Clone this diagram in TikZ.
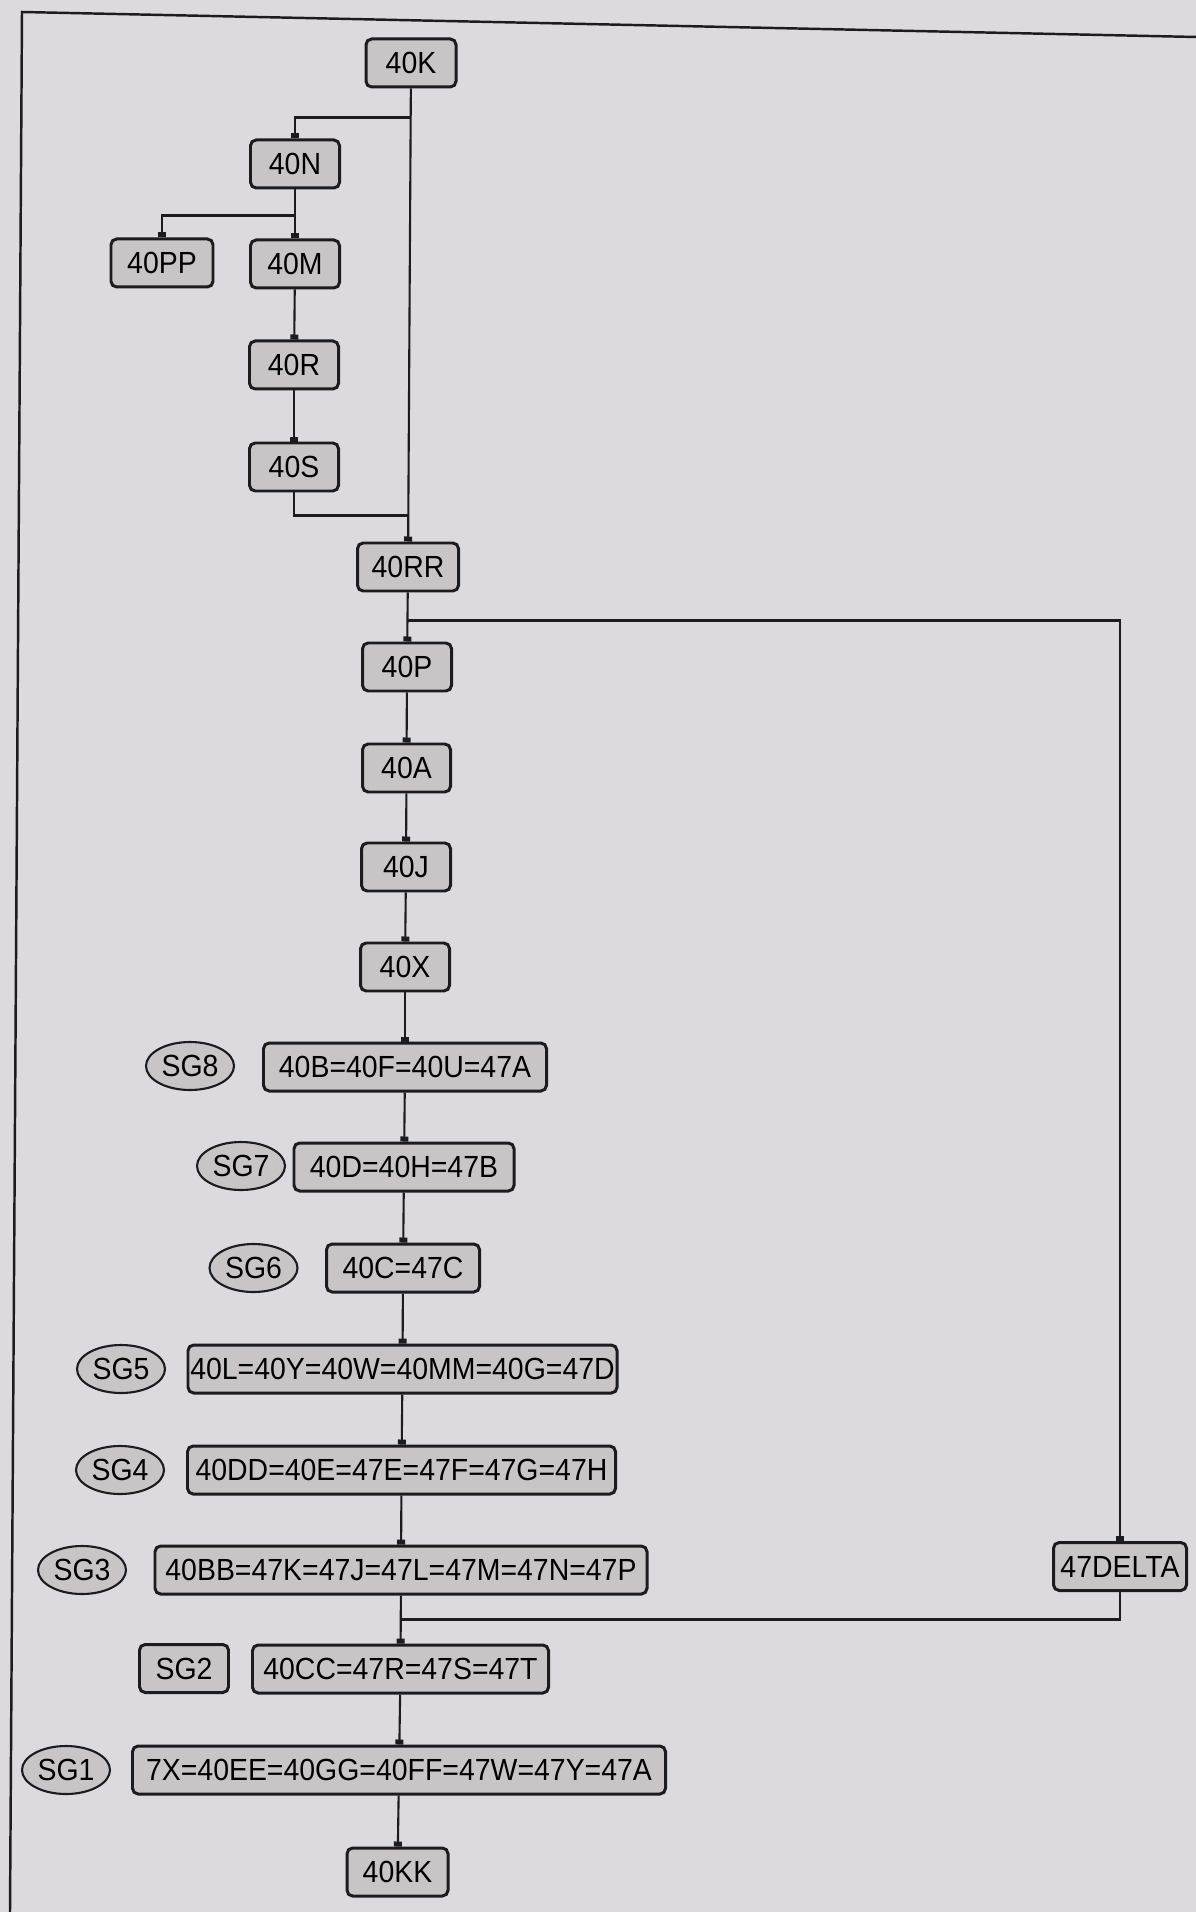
\documentclass[tikz,border=0pt]{standalone}
\usepackage{fontspec}
\setmainfont{Liberation Sans}[FakeStretch=0.93]
\usetikzlibrary{calc,arrows.meta,shapes.geometric}
\definecolor{paperGray}{RGB}{220,218,223}
\definecolor{boxGray}{RGB}{201,197,199}
\definecolor{inkDark}{RGB}{28,28,32}

\tikzset{
  blk/.style={draw=inkDark,fill=boxGray,line width=0.85pt,rounded corners=1.6pt,minimum height=0.48cm,inner sep=0.5pt,font=\fontsize{8.7}{10}\selectfont},
  sgtag/.style={ellipse,draw=inkDark,fill=boxGray,line width=0.6pt,minimum width=0.88cm,minimum height=0.48cm,inner sep=0pt,font=\fontsize{8.7}{10}\selectfont},
  link/.style={draw=inkDark,line width=0.6pt},
  tap/.style={link,-{Square[length=0.05cm,width=0.08cm]}}
}

\begin{document}
\begin{tikzpicture}[x=1cm,y=1cm]
\path[use as bounding box] (0,0) rectangle (11.96,-19.12);
\fill[paperGray] (0,0) rectangle (11.96,-19.12);
\draw[inkDark,line width=0.7pt] (11.96,-0.37) -- (0.22,-0.12) -- (0.10,-19.12);

% upper branch
\node[blk,minimum width=0.90cm] (k40) at (4.11,-0.63) {40K};
\node[blk,minimum width=0.89cm] (n40) at (2.95,-1.64) {40N};
\node[blk,minimum width=1.02cm] (pp40) at (1.62,-2.63) {40PP};
\node[blk,minimum width=0.89cm] (m40) at (2.95,-2.64) {40M};
\node[blk,minimum width=0.89cm] (r40) at (2.94,-3.65) {40R};
\node[blk,minimum width=0.89cm] (s40) at (2.94,-4.67) {40S};

% main column
\node[blk,minimum width=1.01cm] (rr40) at (4.08,-5.67) {40RR};
\node[blk,minimum width=0.89cm] (p40) at (4.07,-6.67) {40P};
\node[blk,minimum width=0.88cm] (a40) at (4.065,-7.68) {40A};
\node[blk,minimum width=0.89cm] (j40) at (4.06,-8.67) {40J};
\node[blk,minimum width=0.89cm] (x40) at (4.05,-9.67) {40X};

\node[blk,minimum width=2.83cm] (g8) at (4.05,-10.67) {40B=40F=40U=47A};
\node[sgtag] (sg8) at (1.90,-10.66) {SG8};
\node[blk,minimum width=2.20cm] (g7) at (4.04,-11.67) {40D=40H=47B};
\node[sgtag] (sg7) at (2.41,-11.66) {SG7};
\node[blk,minimum width=1.53cm] (g6) at (4.03,-12.68) {40C=47C};
\node[sgtag] (sg6) at (2.535,-12.68) {SG6};
\node[blk,minimum width=4.29cm] (g5) at (4.025,-13.69) {40L=40Y=40W=40MM=40G=47D};
\node[sgtag] (sg5) at (1.21,-13.69) {SG5};
\node[blk,minimum width=4.28cm] (g4) at (4.015,-14.70) {40DD=40E=47E=47F=47G=47H};
\node[sgtag] (sg4) at (1.20,-14.70) {SG4};
\node[blk,minimum width=4.92cm] (g3) at (4.01,-15.70) {40BB=47K=47J=47L=47M=47N=47P};
\node[sgtag] (sg3) at (0.82,-15.70) {SG3};
\node[blk,minimum width=2.96cm] (g2) at (4.005,-16.69) {40CC=47R=47S=47T};
\node[blk,minimum width=0.89cm] (sg2) at (1.84,-16.685) {SG2};
\node[blk,minimum width=5.33cm] (g1) at (3.99,-17.70) {7X=40EE=40GG=40FF=47W=47Y=47A};
\node[sgtag] (sg1) at (0.66,-17.70) {SG1};
\node[blk,minimum width=1.01cm] (kk40) at (3.975,-18.72) {40KK};

% side branch
\node[blk,minimum width=1.33cm] (delta) at (11.20,-15.665) {47DELTA};

% connectors
\draw[tap] (k40) -- (rr40);
\draw[tap] (k40.south) ++(0,-0.29) -| (n40.north);
\draw[tap] (n40) -- (m40);
\draw[tap] (n40.south) ++(0,-0.26) -| (pp40.north);
\draw[tap] (m40) -- (r40);
\draw[tap] (r40) -- (s40);
\draw[link] (s40.south) |- ([yshift=0.26cm]rr40.north);

\foreach \a/\b in {rr40/p40,p40/a40,a40/j40,j40/x40,x40/g8,g8/g7,g7/g6,g6/g5,g5/g4,g4/g3,g3/g2,g2/g1,g1/kk40}
  \draw[tap] (\a) -- (\b);

\draw[tap] (rr40.south) ++(0,-0.28) -| (delta.north);
\draw[link] (delta.south) |- ($(g3.south)!0.5!(g2.north)$);
\end{tikzpicture}
\end{document}
